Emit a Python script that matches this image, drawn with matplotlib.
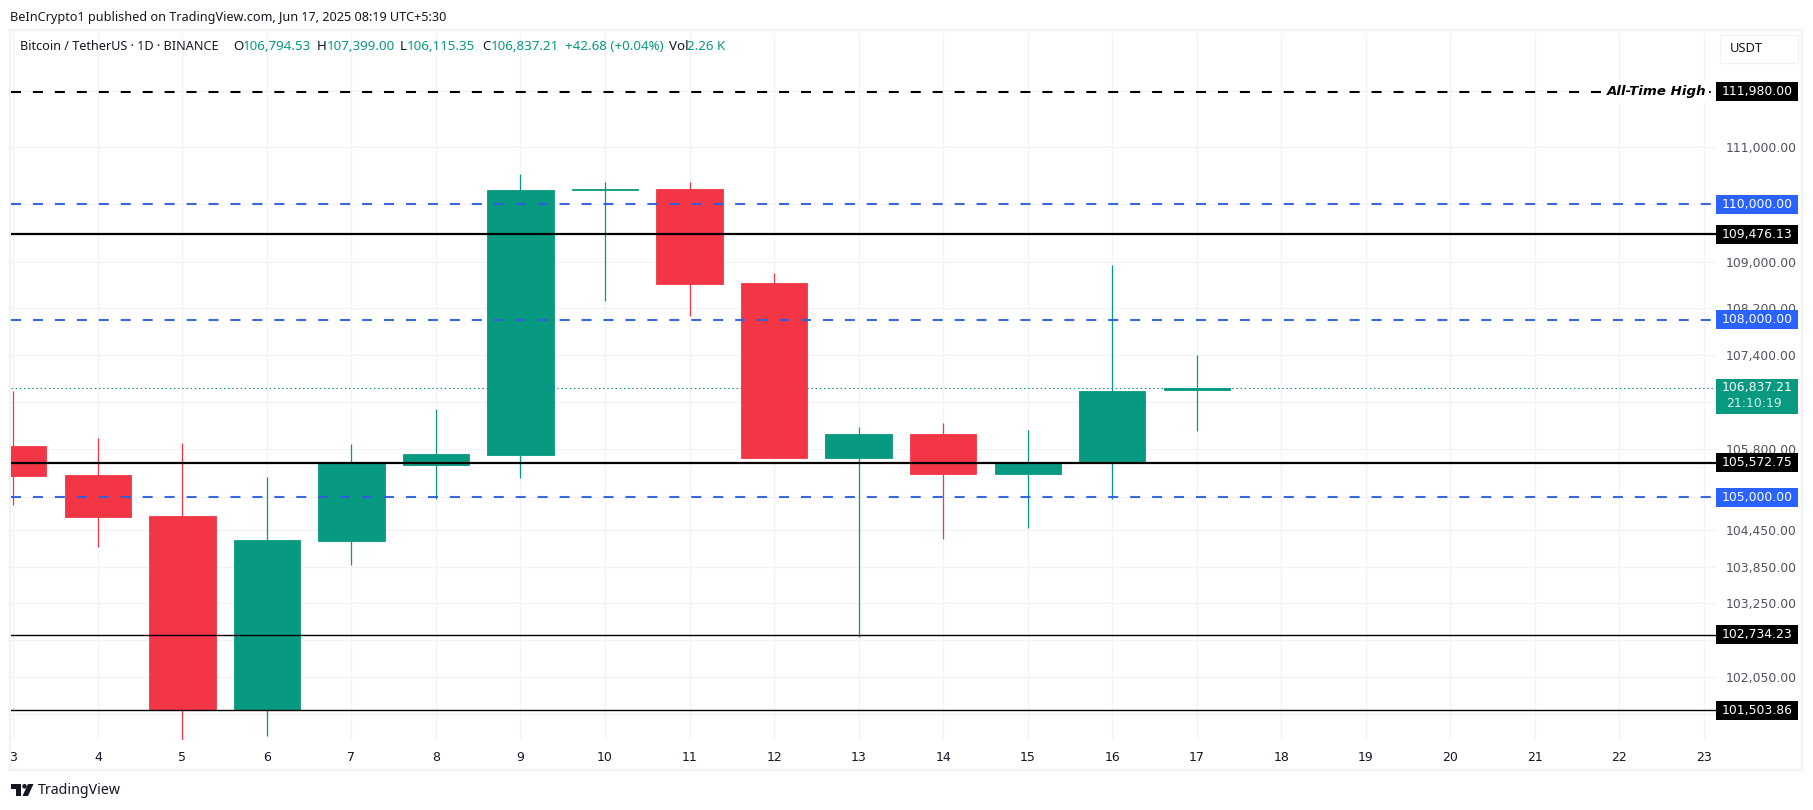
"""BTC/USDT daily candles with level lines, TradingView style."""
import matplotlib
matplotlib.use("Agg")
import matplotlib.pyplot as plt
from matplotlib.patches import Circle, Polygon, Rectangle
from matplotlib.transforms import Bbox, IdentityTransform

W, H = 1813, 810
GREEN = "#089981"
RED = "#f23645"
BLUE_TAG = "#2962ff"
BLUE_LINE = "#2f5fdc"
GRID = "#f2f3f6"
FRAME = "#f1f2f5"

days = [3, 4, 5, 6, 7, 8, 9, 10, 11, 12, 13, 14, 15, 16, 17]
opens = [105858, 105372, 104687, 101510, 104278, 105544, 105712, 110250, 110267,
         108633, 105656, 106060, 105393, 105590, 106794.53]
highs = [106787, 105993, 105913, 105338, 105892, 106482, 110530, 110390, 110390,
         108806, 106178, 106245, 106127, 108945, 107399.00]
lows = [104871, 104179, 101000, 101094, 103881, 104971, 105321, 108328, 108071,
        105661, 102690, 104311, 104494, 104976, 106115.35]
closes = [105360, 104676, 101510, 104290, 105568, 105724, 110250, 110262, 108616,
          105661, 106060, 105393, 105572, 106787, 106837.21]

grid_prices = [112000, 111000, 110000, 109000, 108200, 107400, 106600, 105800,
               105000, 104450, 103850, 103250, 102650, 102050, 101450]
hidden_labels = [112000, 110000, 106600, 105000, 102650, 101450]

last_price = 106837.21
countdown = "21:10:19"
ath_level = 111980.00
blue_levels = [110000.00, 108000.00, 105000.00]
thick_levels = [109476.13, 105572.75]
thin_levels = [102734.23, 101503.86]
price_min, price_max = 101029, 113029
day_min, day_max = 2.973, 23.142


def put_text(x, y, s, **kw):
    kw.setdefault("va", "center")
    kw.setdefault("family", "Noto Sans")
    return fig.text(x, H - y, s, transform=IdentityTransform(), **kw)


def price_y(price):
    return ax.transData.transform((day_min, price))[1]


def price_tag(price, label, color, height=19):
    y = price_y(price)
    fig.add_artist(Rectangle((1716, y - height / 2), 82, height, facecolor=color,
                             edgecolor="none", transform=IdentityTransform(), zorder=5))
    fig.text(1757, y, label, color="white", fontsize=8.9, family="DejaVu Sans",
             ha="center", va="center", transform=IdentityTransform(), zorder=6)


plt.rcParams["lines.scale_dashes"] = False
fig = plt.figure(figsize=(W / 100, H / 100), dpi=100, facecolor="white")
ax = fig.add_axes([11 / W, (H - 740) / H, (1716 - 11) / W, (740 - 33) / H])
ax.set_yscale("log")
ax.set_xlim(day_min, day_max)
ax.set_ylim(price_min, price_max)
for side in ax.spines.values():
    side.set_visible(False)

ax.set_xticks(range(3, 24))
ax.set_yticks(grid_prices)
ax.minorticks_off()
ax.set_yticklabels(["" if p in hidden_labels else f"{p:,.2f}" for p in grid_prices])
ax.yaxis.tick_right()
ax.grid(color=GRID, lw=0.9)
ax.set_axisbelow(True)
ax.tick_params(axis="y", length=0, pad=7, labelsize=8.9, labelcolor="#50535e")
ax.tick_params(axis="x", length=0, pad=8, labelsize=9, labelcolor="#131722")
for lab in ax.get_xticklabels() + ax.get_yticklabels():
    lab.set_family("DejaVu Sans")
# the first day label is cut by the pane edge
first = ax.get_xticklabels()[0]
first.set_clip_on(True)
first.set_clip_box(Bbox([[11, 0], [W, H]]))

# last price line sits behind the candles
ax.axhline(last_price, color="#0b8f7a", lw=0.8, dashes=(1, 2), zorder=1)

colors = [GREEN if c >= o else RED for o, c in zip(opens, closes)]
ax.vlines(days, lows, highs, colors=colors, lw=0.9, zorder=2)
ax.bar(days, [abs(c - o) for o, c in zip(opens, closes)],
       bottom=[min(o, c) for o, c in zip(opens, closes)], width=0.785,
       color=colors, edgecolor=colors, lw=0.6, zorder=3)

ax.axhline(ath_level, color="black", lw=1.5, dashes=(7.2, 8.6), zorder=4)
for level in blue_levels:
    ax.axhline(level, color=BLUE_LINE, lw=1.5, dashes=(7.2, 8.6), alpha=0.95, zorder=4)
for level in thick_levels:
    ax.axhline(level, color="black", lw=1.6, zorder=4)
for level in thin_levels:
    ax.axhline(level, color="black", lw=1.0, zorder=4)

fig.text(1706, price_y(ath_level), "All-Time High", style="italic", weight="bold",
         fontsize=9.6, family="DejaVu Sans", color="black", ha="right", va="center",
         transform=IdentityTransform(), zorder=4,
         bbox=dict(facecolor="white", edgecolor="none", pad=2.5))

# pane frame
fig.add_artist(Rectangle((10, H - 770), 1792, 740, facecolor="none", edgecolor=FRAME,
                         lw=1.6, transform=IdentityTransform(), zorder=-1))
fig.add_artist(Rectangle((1720, H - 63), 78, 28, facecolor="white", edgecolor=FRAME,
                         lw=0.9, transform=IdentityTransform(), zorder=2))
put_text(1730, 49, "USDT", fontsize=9.3, color="#131722", zorder=3)

price_tag(ath_level, f"{ath_level:,.2f}", "black")
for level in blue_levels:
    price_tag(level, f"{level:,.2f}", BLUE_TAG)
for level in thick_levels + thin_levels:
    price_tag(level, f"{level:,.2f}", "black")

last_y = price_y(last_price)
fig.add_artist(Rectangle((1716, last_y - 26), 82, 35, facecolor=GREEN, edgecolor="none",
                         transform=IdentityTransform(), zorder=5))
fig.text(1757, last_y, f"{last_price:,.2f}", color="white", fontsize=8.9, ha="center",
         va="center", family="DejaVu Sans", transform=IdentityTransform(), zorder=6)
fig.text(1726, last_y - 16, countdown, color="#d5efe9", fontsize=8.9, ha="left",
         va="center", family="DejaVu Sans", transform=IdentityTransform(), zorder=6)

# header
put_text(10, 18, "BeInCrypto1 published on TradingView.com, Jun 17, 2025 08:19 UTC+5:30",
         fontsize=9.1, color="#131722")
put_text(20, 47, "Bitcoin / TetherUS · 1D · BINANCE", fontsize=9.1, color="#131722")
header_row = [(233, "O", "#131722"), (243, "106,794.53", GREEN),
              (317, "H", "#131722"), (327, "107,399.00", GREEN),
              (400, "L", "#131722"), (407, "106,115.35", GREEN),
              (482, "C", "#131722"), (491, "106,837.21", GREEN),
              (565, "+42.68 (+0.04%)", GREEN),
              (669, "Vol", "#131722"), (687, "2.26 K", GREEN)]
for x, s, c in header_row:
    put_text(x, 47, s, fontsize=9.6, color=c)

# logo and name at the bottom
logo = IdentityTransform()
fig.add_artist(Polygon([(11, H - 784), (21, H - 784), (21, H - 796), (16, H - 796),
                        (16, H - 789), (11, H - 789)], facecolor="#131722",
                       edgecolor="none", transform=logo))
fig.add_artist(Circle((24.5, H - 786.3), 2.3, facecolor="#131722", edgecolor="none",
                      transform=logo))
fig.add_artist(Polygon([(28, H - 784), (33.5, H - 784), (28, H - 796), (22.5, H - 796)],
                       facecolor="#131722", edgecolor="none", transform=logo))
put_text(38, 791, "TradingView", fontsize=10.2, color="#131722")

fig.savefig("out.png", dpi=100)
